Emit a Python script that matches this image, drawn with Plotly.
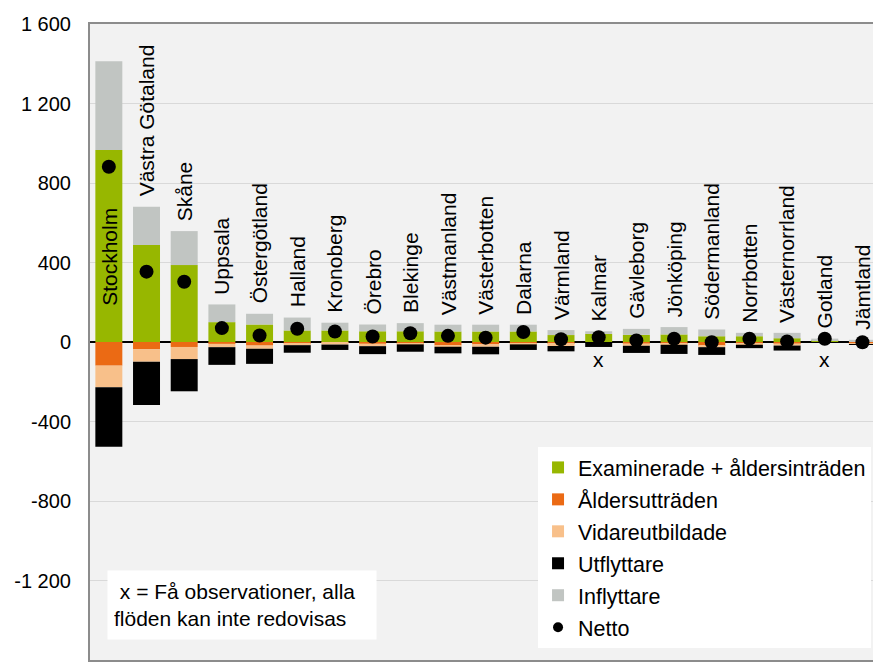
import plotly.graph_objects as go

regions = ["Stockholm", "Västra Götaland", "Skåne", "Uppsala", "Östergötland", "Halland",
           "Kronoberg", "Örebro", "Blekinge", "Västmanland", "Västerbotten", "Dalarna",
           "Värmland", "Kalmar", "Gävleborg", "Jönköping", "Södermanland", "Norrbotten",
           "Västernorrland", "Gotland", "Jämtland"]
examinerade = [966, 488, 387, 100, 88, 58, 58, 54, 54, 53, 53, 53, 35, 41, 36, 38, 29, 29, 19, 9, 5]
inflyttare = [447, 192, 171, 89, 54, 65, 39, 34, 41, 34, 34, 34, 25, 13, 30, 37, 34, 17, 27, 8, 6]
aldersutt = [-119, -37, -25, -9, -18, -6, -5, -8, -7, -17, -12, -10, -10, 0, -7, -6, -19, -6, -7, 0, -6]
vidareutb = [-109, -62, -61, -17, -16, -10, -8, -13, -5, -7, -12, -2, -10, 0, -12, -8, -7, -8, -11, 0, -5]
utflyttare = [-299, -218, -162, -89, -76, -38, -27, -40, -37, -33, -38, -28, -27, -25, -36, -46, -39, -17, -25, 0, -2]
netto = [882, 354, 303, 70, 33, 67, 53, 28, 44, 31, 22, 50, 14, 24, 8, 16, -1, 16, 3, 16, -1]
few_obs = ["Kalmar", "Gotland"]

tick_vals = [-1600, -1200, -800, -400, 0, 400, 800, 1200, 1600]
tick_text = ["-1 600", "-1 200", "-800", "-400", "0", "400", "800", "1 200", "1 600"]

FONT = "Liberation Sans, Arial, sans-serif"
C_GREEN = "#97b700"
C_ORANGE = "#eb6a14"
C_LORANGE = "#f8c08a"
C_BLACK = "#000000"
C_GRAY = "#c1c5c2"

x = list(range(len(regions)))

fig = go.Figure()
series = [
    ("Examinerade + åldersinträden", examinerade, C_GREEN),
    ("Åldersutträden", aldersutt, C_ORANGE),
    ("Vidareutbildade", vidareutb, C_LORANGE),
    ("Utflyttare", utflyttare, C_BLACK),
    ("Inflyttare", inflyttare, C_GRAY),
]
for name, vals, col in series:
    fig.add_trace(go.Bar(x=x, y=vals, name=name, marker=dict(color=col, line=dict(width=0)),
                         legendgroup=name))

fig.add_trace(go.Scatter(x=x, y=netto, mode="markers", name="Netto", showlegend=False,
                         marker=dict(color="black", size=14), legendgroup="Netto"))
fig.add_trace(go.Scatter(x=[None], y=[None], mode="markers", name="Netto",
                         marker=dict(color="black", size=10), legendgroup="Netto"))

annotations = []
for i, r in enumerate(regions):
    top = examinerade[i] + inflyttare[i]
    if i == 0:
        annotations.append(dict(x=i, y=0, text=r, textangle=-90, showarrow=False,
                                yanchor="bottom", yshift=34,
                                font=dict(family=FONT, size=21, color="black")))
    else:
        annotations.append(dict(x=i, y=top, text=r, textangle=-90, showarrow=False,
                                yanchor="bottom", yshift=8,
                                font=dict(family=FONT, size=21, color="black")))
    if r in few_obs:
        annotations.append(dict(x=i, y=0, text="x", showarrow=False, yanchor="middle",
                                yshift=-17, font=dict(family=FONT, size=21, color="black")))

annotations.append(dict(xref="paper", yref="paper", x=0.1946, y=0.0865,
                        xanchor="center", yanchor="middle",
                        text="&nbsp;x = Få observationer, alla<br>flöden kan inte redovisas",
                        showarrow=False, align="left", bgcolor="white", width=256, height=56,
                        borderpad=6, font=dict(family=FONT, size=21, color="black")))

fig.update_layout(
    width=873, height=666,
    margin=dict(l=89.5, r=0, t=24, b=6, autoexpand=False),
    paper_bgcolor="white", plot_bgcolor="#f2f2f2",
    barmode="relative", bargap=0.284,
    font=dict(family=FONT, size=20, color="black"),
    showlegend=True,
    legend=dict(x=0.5722, y=0.335, xanchor="left", yanchor="top", bgcolor="white",
                traceorder="grouped", tracegroupgap=1, itemwidth=30,
                font=dict(family=FONT, size=21.5, color="black")),
    annotations=annotations,
    xaxis=dict(range=[-0.5, 20.28], showticklabels=False, showgrid=False, zeroline=False,
               showline=True, linecolor="#8c8c8c", linewidth=2, mirror=True, ticks=""),
    yaxis=dict(range=[-1600, 1600], tickvals=tick_vals, ticktext=tick_text,
               showgrid=True, gridcolor="#d9d9d9", gridwidth=1,
               zeroline=True, zerolinecolor="black", zerolinewidth=1.5,
               showline=True, linecolor="#8c8c8c", linewidth=2, mirror=True,
               ticks="", ticklabelstandoff=13,
               tickfont=dict(family=FONT, size=20, color="black")),
)

fig.write_html("out.html", config={"responsive": False, "displayModeBar": False},
               post_script="document.body.style.margin='0';document.body.style.overflow='hidden';")
